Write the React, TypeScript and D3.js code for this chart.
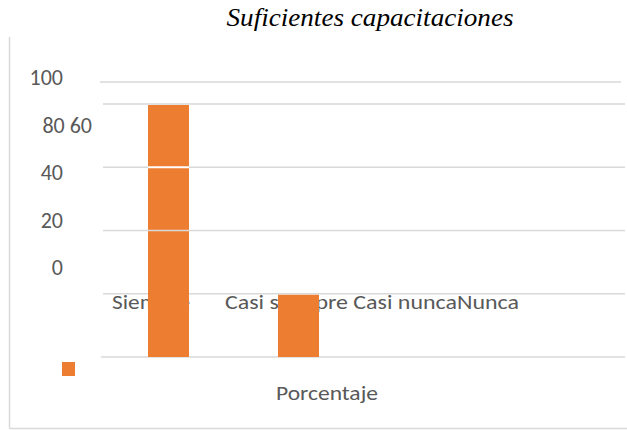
import React from "react";
import * as d3 from "d3";

const categories = ["Siempre", "Casi siempre", "Casi nunca", "Nunca"];
const values = [80, 20, 0, 0];
const tickValues = [0, 20, 40, 60, 80];
const tickLabels = ["100", "80 60", "40", "20", "0"];
const seriesName = "Porcentaje";
const title = "Suficientes capacitaciones";

const W = 627;
const H = 430;
const GRID = "#d9d9d9";
const TEXT = "#595959";
const BAR = "#ED7D31";
const SANS = "Carlito, Calibri, 'Open Sans', 'Noto Sans', sans-serif";

export default function App() {
  const x = d3.scalePoint<string>().domain(categories).range([103.5, 623.5]).padding(0.5);
  const y = d3.scaleLinear().domain([0, 80]).range([357, 104]);
  const labelY = d3.scalePoint<string>().domain(tickLabels).range([78, 268]);
  const barW = 41;

  return (
    <svg width={W} height={H} style={{ position: "absolute", left: 0, top: 0, background: "#fff" }}>
      {/* outer border */}
      <line x1={9.5} x2={9.5} y1={37} y2={428} stroke={GRID} strokeWidth={1.5} />
      <line x1={9} x2={W} y1={428.5} y2={428.5} stroke={GRID} strokeWidth={1.5} />

      {/* title */}
      <text x={370} y={26} textAnchor="middle" fontFamily="'Liberation Serif', 'Times New Roman', serif" fontStyle="italic" fontSize={25} fill="#000" textLength={287} lengthAdjust="spacingAndGlyphs">
        {title}
      </text>

      {/* extra top line */}
      <line x1={100} x2={621} y1={y(80) - 22} y2={y(80) - 22} stroke={GRID} strokeWidth={1.5} />
      {/* gridlines */}
      {tickValues.map((v) => (
        <line key={v} x1={v === 0 ? 101 : 103} x2={625} y1={y(v)} y2={y(v)} stroke={GRID} strokeWidth={1.5} />
      ))}

      {/* y tick labels */}
      {tickLabels.map((t) => (
        <text key={t} x={t === "80 60" ? 92 : 63} y={labelY(t)! + 7} textAnchor="end" fontFamily={SANS} fontSize={22} fill={TEXT}>
          {t}
        </text>
      ))}

      {/* category labels */}
      <text y={309} fontFamily={SANS} fontSize={20.5} fill={TEXT}>
        <tspan x={112} textLength={78} lengthAdjust="spacingAndGlyphs">{categories[0]}</tspan>
      </text>
      <text y={309} fontFamily={SANS} fontSize={20.5} fill={TEXT}>
        <tspan x={225} textLength={294} lengthAdjust="spacingAndGlyphs">
          {categories[1] + " " + categories[2] + categories[3]}
        </tspan>
      </text>

      {/* bars */}
      {categories.map((c, i) =>
        values[i] > 0 ? (
          <rect key={c} x={x(c)! - barW / 2} y={y(values[i]) + 1} width={barW} height={y(0) - y(values[i]) - 1} fill={BAR} />
        ) : null
      )}
      {/* artefact lines crossing first bar */}
      <line x1={x(categories[0])! - barW / 2} x2={x(categories[0])! + barW / 2} y1={y(60)} y2={y(60)} stroke="#fff" strokeWidth={2} />
      <line x1={x(categories[0])! - barW / 2} x2={x(categories[0])! + barW / 2} y1={y(40)} y2={y(40)} stroke={GRID} strokeWidth={1.5} />

      {/* legend */}
      <rect x={62} y={362} width={13} height={14} fill={BAR} />
      <text x={327} y={400} textAnchor="middle" fontFamily={SANS} fontSize={21} fill={TEXT} textLength={102} lengthAdjust="spacingAndGlyphs">
        {seriesName}
      </text>
    </svg>
  );
}
